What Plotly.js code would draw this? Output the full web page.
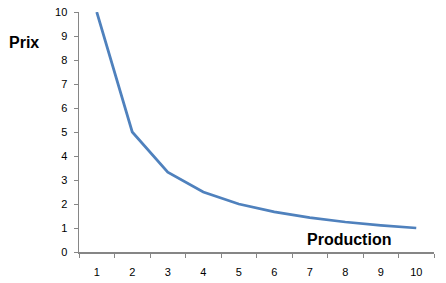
<!DOCTYPE html>
<html><head><meta charset="utf-8">
<script src="https://cdn.plot.ly/plotly-3.0.1.min.js"></script>
<style>html,body{margin:0;padding:0;background:#fff;}#chart{width:446px;height:283px;}</style>
</head><body><div id="chart"></div>
<script>
const production = ['1','2','3','4','5','6','7','8','9','10'];
const prix = [10, 5, 3.33, 2.5, 2, 1.67, 1.43, 1.25, 1.11, 1];
const yTicks = [0,1,2,3,4,5,6,7,8,9,10];

const trace = {
  x: production, y: prix, type: 'scatter', mode: 'lines',
  line: {color: '#4F81BD', width: 2.75}, hoverinfo: 'none'
};
const axisColor = '#868686';
const layout = {
  width: 446, height: 283,
  margin: {l: 79, r: 12, t: 12, b: 31, pad: 0},
  paper_bgcolor: '#fff', plot_bgcolor: '#fff',
  showlegend: false,
  font: {family: 'Liberation Sans, Arial, sans-serif', size: 11, color: '#000'},
  xaxis: {
    type: 'category', range: [-0.5, 9.5], tickson: 'boundaries',
    ticks: 'outside', ticklen: 4, tickcolor: axisColor, tickwidth: 1,
    showline: true, linecolor: axisColor, linewidth: 1.5,
    showgrid: false, zeroline: false, ticklabelstandoff: 9,
    tickfont: {size: 11}
  },
  yaxis: {
    range: [0, 10], tickvals: yTicks, ticktext: yTicks.map(String),
    ticks: 'outside', ticklen: 4, tickcolor: axisColor, tickwidth: 1,
    showline: true, linecolor: axisColor, linewidth: 1.5,
    showgrid: false, zeroline: false, ticklabelstandoff: 4,
    tickfont: {size: 11}
  },
  annotations: [
    {text: '<b>Prix</b>', xref: 'paper', yref: 'paper', x: -0.155, y: 0.875,
     showarrow: false, xanchor: 'center', yanchor: 'middle', font: {size: 16}},
    {text: '<b>Production</b>', xref: 'paper', yref: 'paper', x: 0.76, y: 0.054,
     showarrow: false, xanchor: 'center', yanchor: 'middle', font: {size: 16}}
  ]
};
Plotly.newPlot('chart', [trace], layout, {staticPlot: true, displayModeBar: false});
</script></body></html>
